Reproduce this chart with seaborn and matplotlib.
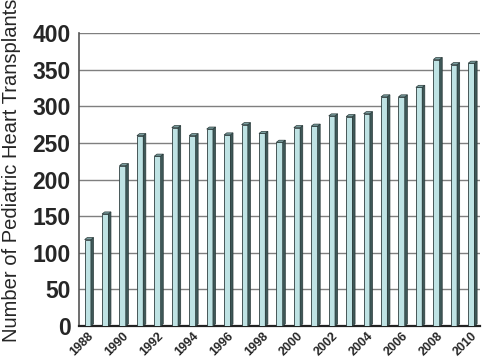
import matplotlib
matplotlib.use("Agg")
import matplotlib.pyplot as plt
from matplotlib.patches import Polygon
import seaborn as sns
import pandas as pd

years = list(range(1988, 2011))
transplants = [118, 153, 219, 260, 232, 271, 260, 269, 261, 275, 263, 251,
               271, 273, 287, 286, 290, 313, 313, 326, 364, 357, 359]
y_ticks = [0, 50, 100, 150, 200, 250, 300, 350, 400]

face = '#bfe3e4'
side = '#3e5858'
top = '#7a9e9f'

sns.set_theme(style='white')
plt.rcParams['font.family'] = ['Liberation Sans', 'DejaVu Sans']

df = pd.DataFrame({'Year': years, 'Transplants': transplants})

fig = plt.figure(figsize=(4.82, 3.57), dpi=100)
ax = fig.add_axes([0.164, 0.087, 0.832, 0.82])

for y in y_ticks:
    ax.axhline(y, color='#7f7f7f', linewidth=1.0, zorder=0)

sns.barplot(data=df, x='Year', y='Transplants', color=face, width=0.36,
            edgecolor='#2f3f3f', linewidth=0.6, saturation=1, ax=ax, zorder=3)

# fake 3d depth: side and top faces built from each bar
dx, dy = 0.15, 2.8
for p in ax.patches[:len(years)]:
    x0 = p.get_x()
    w = p.get_width()
    h = p.get_height()
    ax.add_patch(Polygon([(x0 + w, 0), (x0 + w, h), (x0 + w + dx, h + dy), (x0 + w + dx, dy)],
                         closed=True, facecolor=side, edgecolor='#2a3a3a', linewidth=0.5, zorder=3))
    ax.add_patch(Polygon([(x0, h), (x0 + w, h), (x0 + w + dx, h + dy), (x0 + dx, h + dy)],
                         closed=True, facecolor=top, edgecolor='#2a3a3a', linewidth=0.5, zorder=3))

ax.set_xlim(-0.5, len(years) - 0.5)
ax.set_ylim(0, 400)
ax.set_yticks(y_ticks)
ax.set_yticklabels([str(v) for v in y_ticks], fontsize=16.5, fontweight='bold')

ax.set_xticks(range(len(years)))
ax.set_xticklabels([str(y) if (y - 1988) % 2 == 0 else '' for y in years],
                   rotation=45, ha='right', rotation_mode='anchor',
                   fontsize=9, fontweight='bold')
ax.tick_params(axis='x', length=0, pad=3)
ax.set_xticks([i - 0.5 for i in range(len(years) + 1)], minor=True)
ax.tick_params(axis='x', which='minor', length=4, width=0.8, color='#444444', direction='out')
ax.tick_params(axis='y', length=4, width=0.8, color='#444444', direction='out', pad=2)

ax.set_xlabel('')
ax.set_ylabel('Number of Pediatric Heart Transplants', fontsize=14.5)
ax.yaxis.set_label_coords(-0.145, 0.53)

for s in ['top', 'right']:
    ax.spines[s].set_visible(False)
ax.spines['left'].set_color('#555555')
ax.spines['left'].set_linewidth(1.2)
ax.spines['bottom'].set_color('#222222')
ax.spines['bottom'].set_linewidth(1.6)

fig.savefig('out.png', dpi=100)
